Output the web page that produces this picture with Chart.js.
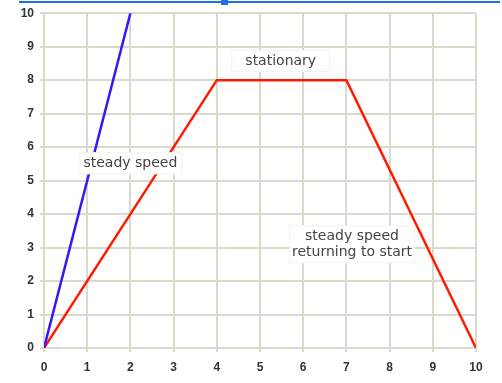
<!DOCTYPE html>
<html>
<head>
<meta charset="utf-8">
<script src="https://cdn.jsdelivr.net/npm/chart.js@4"></script>
<style>
  body { margin: 0; background: #fff; }
  #wrap { position: relative; width: 502px; height: 383px; }
  #topline { position: absolute; left: 19px; top: 1px; width: 481px; height: 2px; background: #1f6cf0; }
  #handle { position: absolute; left: 221px; top: 0; width: 7px; height: 5px; background: #1f6cf0; }
</style>
</head>
<body>
<div id="wrap">
  <canvas id="graph" width="502" height="383"></canvas>
  <div id="topline"></div>
  <div id="handle"></div>
</div>
<script>
// データ
const blueX = [0, 2];
const blueY = [0, 10];
const redX = [0, 4, 7, 10];
const redY = [0, 8, 8, 0];
const xTicks = [0, 1, 2, 3, 4, 5, 6, 7, 8, 9, 10];
const yTicks = [0, 1, 2, 3, 4, 5, 6, 7, 8, 9, 10];
const noteText = [['steady speed'], ['stationary'], ['steady speed', 'returning to start']];
const noteX = [2.0, 5.48, 7.13];
const noteY = [5.52, 8.57, 3.1];

const toPoints = (xs, ys) => xs.map((x, i) => ({x: x, y: ys[i]}));

// 注釈ラベル（白い箱＋文字）
const notePad = [5, 14, 3];
const notes = {
  id: 'notes',
  afterDatasetsDraw(chart) {
    const ctx = chart.ctx;
    const sx = chart.scales.x, sy = chart.scales.y;
    ctx.save();
    ctx.font = '14px "DejaVu Sans", Verdana, sans-serif';
    ctx.textAlign = 'center';
    ctx.textBaseline = 'middle';
    noteText.forEach((lines, i) => {
      const cx = sx.getPixelForValue(noteX[i]);
      const cy = sy.getPixelForValue(noteY[i]);
      const lh = 16;
      let w = 0;
      lines.forEach(t => { w = Math.max(w, ctx.measureText(t).width); });
      const bw = w + notePad[i] * 2, bh = lines.length * lh + 6;
      ctx.fillStyle = '#fff';
      ctx.fillRect(cx - bw / 2, cy - bh / 2, bw, bh);
      ctx.strokeStyle = '#f4f4ea';
      ctx.lineWidth = 1;
      ctx.strokeRect(cx - bw / 2 + 0.5, cy - bh / 2 + 0.5, bw - 1, bh - 1);
      ctx.fillStyle = '#444';
      lines.forEach((t, k) => {
        ctx.fillText(t, cx, cy + (k - (lines.length - 1) / 2) * lh);
      });
    });
    ctx.restore();
  }
};

const tickFont = {family: '"Liberation Sans", Arial, sans-serif', size: 12, weight: 'bold'};
const gridStyle = {color: '#d9d9cc', lineWidth: 2, tickLength: 4, drawTicks: true};

new Chart(document.getElementById('graph'), {
  type: 'scatter',
  data: {
    datasets: [
      {data: toPoints(blueX, blueY), showLine: true, borderColor: '#3a16f5', borderWidth: 2.5, pointRadius: 0, tension: 0},
      {data: toPoints(redX, redY), showLine: true, borderColor: '#ff1a00', borderWidth: 2.5, pointRadius: 0, tension: 0}
    ]
  },
  plugins: [notes],
  options: {
    responsive: false,
    animation: false,
    layout: {padding: {top: 11, right: 26, left: 0, bottom: 0}},
    plugins: {legend: {display: false}, tooltip: {enabled: false}},
    scales: {
      x: {
        type: 'linear', min: 0, max: 10,
        afterBuildTicks: s => { s.ticks = xTicks.map(v => ({value: v})); },
        afterFit: s => { s.height = 35; },
        grid: gridStyle,
        border: {display: false},
        ticks: {font: tickFont, color: '#333', padding: 8, maxRotation: 0}
      },
      y: {
        min: 0, max: 10,
        afterBuildTicks: s => { s.ticks = yTicks.map(v => ({value: v})); },
        afterFit: s => { s.width = 44; },
        grid: gridStyle,
        border: {display: false},
        ticks: {font: tickFont, color: '#333', padding: 6}
      }
    }
  }
});
</script>
</body>
</html>
